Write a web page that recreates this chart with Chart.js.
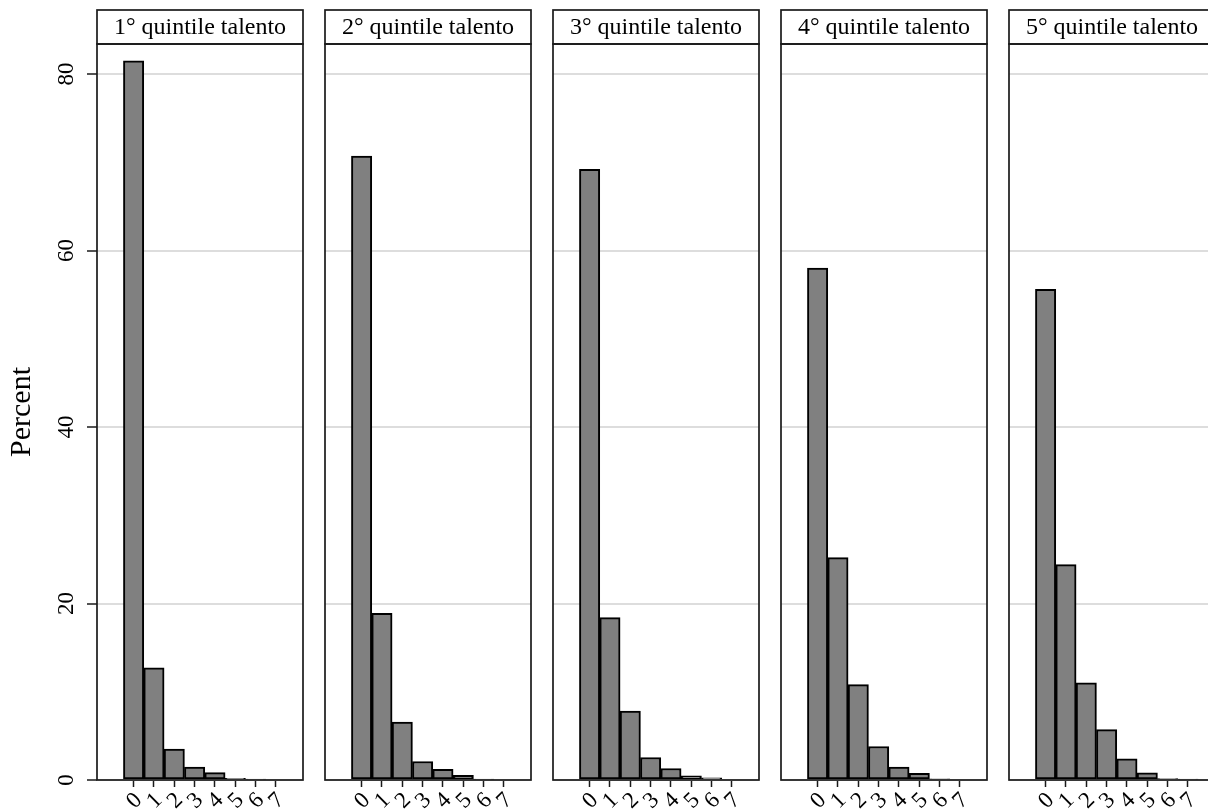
<!DOCTYPE html>
<html>
<head>
<meta charset="utf-8">
<script src="https://cdn.jsdelivr.net/npm/chart.js@4.4.1/dist/chart.umd.min.js"></script>
<style>
  body { margin: 0; width: 1208px; height: 812px; overflow: hidden; position: relative; background: #fff; }
  canvas { position: absolute; top: 0; }
</style>
</head>
<body>
<script>
// number of ... (x values of the histogram bins)
const binValues = [0, 1, 2, 3, 4, 5, 6, 7];
const yTicks = [0, 20, 40, 60, 80];
const panelTitles = [
    "1° quintile talento",
    "2° quintile talento",
    "3° quintile talento",
    "4° quintile talento",
    "5° quintile talento"
];

// percent per bin, one array per quintile
const q1Percent = [81.5, 12.7, 3.5, 1.45, 0.83, 0.19, 0.08, 0];
const q2Percent = [70.7, 18.9, 6.55, 2.1, 1.2, 0.52, 0.08, 0];
const q3Percent = [69.2, 18.4, 7.8, 2.55, 1.3, 0.48, 0.26, 0];
const q4Percent = [58.0, 25.2, 10.8, 3.8, 1.45, 0.76, 0.12, 0];
const q5Percent = [55.6, 24.4, 11.0, 5.7, 2.4, 0.82, 0.15, 0.08];
const panelValues = [q1Percent, q2Percent, q3Percent, q4Percent, q5Percent];

const FONT = '"Liberation Serif", "DejaVu Serif", serif';
const INK = "#1a1a1a";
const panelLefts = [97, 325, 553, 781, 1009];
const panelWidth = 206;

// strip header, full frame and rotated y labels
const panelFrame = {
    id: "panelFrame",
    afterDraw(chart, args, opts) {
        const { ctx, chartArea } = chart;
        const { left, right, top, bottom } = chartArea;
        ctx.save();
        ctx.strokeStyle = INK;
        ctx.lineWidth = 1.7;
        ctx.strokeRect(left, 10, right - left, top - 10);
        ctx.strokeRect(left, top, right - left, bottom - top);

        ctx.fillStyle = "#000";
        ctx.font = "24px " + FONT;
        ctx.textAlign = "center";
        ctx.textBaseline = "middle";
        ctx.fillText(opts.title, (left + right) / 2, 28);

        if (opts.showY) {
            const yScale = chart.scales.y;
            ctx.font = "23px " + FONT;
            yTicks.forEach(v => {
                ctx.save();
                ctx.translate(67, yScale.getPixelForValue(v));
                ctx.rotate(-Math.PI / 2);
                ctx.fillText(String(v), 0, 0);
                ctx.restore();
            });
            ctx.save();
            ctx.font = "30px " + FONT;
            ctx.translate(22, (top + bottom) / 2);
            ctx.rotate(-Math.PI / 2);
            ctx.fillText("Percent", 0, 0);
            ctx.restore();
        }
        ctx.restore();
    }
};

panelValues.forEach((values, i) => {
    const first = i === 0;
    const canvasLeft = first ? 0 : panelLefts[i] - 6;
    const canvasWidth = panelLefts[i] + panelWidth + 6 - canvasLeft;

    const canvas = document.createElement("canvas");
    canvas.width = canvasWidth;
    canvas.height = 812;
    canvas.style.left = canvasLeft + "px";
    canvas.style.width = canvasWidth + "px";
    canvas.style.height = "812px";
    document.body.appendChild(canvas);

    new Chart(canvas.getContext("2d"), {
        type: "bar",
        data: {
            datasets: [{
                data: binValues.map((b, k) => ({ x: b, y: values[k] })),
                backgroundColor: "#808080",
                borderColor: "#000",
                borderWidth: 2,
                borderSkipped: false,
                categoryPercentage: 1,
                barPercentage: 1
            }]
        },
        options: {
            responsive: false,
            animation: false,
            layout: {
                padding: { top: 44, bottom: 0, left: first ? 0 : 6, right: 6 }
            },
            plugins: {
                legend: { display: false },
                tooltip: { enabled: false },
                panelFrame: { title: panelTitles[i], showY: first }
            },
            scales: {
                x: {
                    type: "linear",
                    min: -1.8,
                    max: 8.33,
                    offset: false,
                    border: { display: false },
                    grid: {
                        offset: false,
                        drawOnChartArea: false,
                        drawTicks: true,
                        tickLength: 7,
                        tickColor: INK,
                        tickWidth: 1.5,
                        color: INK
                    },
                    ticks: {
                        autoSkip: false,
                        minRotation: 45,
                        maxRotation: 45,
                        padding: 0,
                        labelOffset: 5,
                        color: "#000",
                        font: { family: FONT, size: 23 }
                    },
                    afterBuildTicks: scale => {
                        scale.ticks = binValues.map(v => ({ value: v }));
                    },
                    afterFit: scale => { scale.height = 32; }
                },
                y: {
                    min: 0,
                    max: 83.4,
                    border: { display: false },
                    grid: {
                        color: "#dddddd",
                        lineWidth: 2,
                        drawTicks: first,
                        tickLength: 10,
                        tickColor: INK,
                        tickWidth: 1.5
                    },
                    ticks: { display: false },
                    afterBuildTicks: scale => {
                        scale.ticks = yTicks.map(v => ({ value: v }));
                    },
                    afterFit: scale => { scale.width = first ? 97 : 0; }
                }
            }
        },
        plugins: [panelFrame]
    });
});
</script>
</body>
</html>
